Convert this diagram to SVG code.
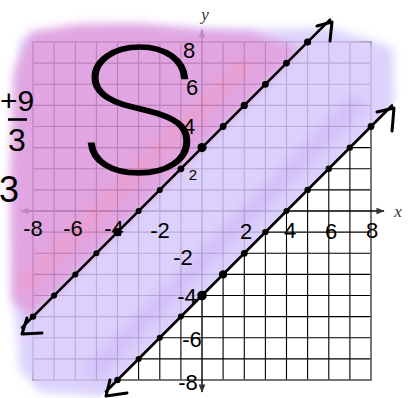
<svg xmlns="http://www.w3.org/2000/svg" width="409" height="398" viewBox="0 0 409 398">
<style>
.g{stroke:#000;stroke-width:1.1;fill:none}
.b{stroke:#555;stroke-width:1.6;fill:none}
.ax{stroke:#000;stroke-width:1.4;fill:none}
.ln{stroke:#000;stroke-width:2.6;fill:none;stroke-linecap:round}
.ar{stroke:#000;stroke-width:3;fill:none;stroke-linecap:round;stroke-linejoin:round}
.d{fill:#000}
.t{font-family:"Liberation Sans",Arial,sans-serif;font-size:22px;fill:#000;text-anchor:middle}
.v{font-family:"Liberation Serif","Times New Roman",serif;font-style:italic;font-size:17px;fill:#333;text-anchor:middle}
</style>
<defs>
<filter id="bl" x="-20%" y="-20%" width="140%" height="140%"><feGaussianBlur stdDeviation="5"/></filter>
<filter id="bl2" x="-20%" y="-20%" width="140%" height="140%"><feGaussianBlur stdDeviation="6"/></filter>
<clipPath id="above2"><polygon points="0,0 409,0 409,88.5 0,497.5"/></clipPath>
<marker id="ah" viewBox="0 0 10 10" refX="9" refY="5" markerWidth="6" markerHeight="6" orient="auto"><path d="M0,1 L10,5 L0,9 z" fill="#333"/></marker>
</defs>
<rect width="409" height="398" fill="#fff"/>
<g id="grid">
<path class="g" d="M54.1,42V380M75.3,42V380M96.4,42V380M117.5,42V380M138.6,42V380M159.8,42V380M180.9,42V380M223.1,42V380M244.3,42V380M265.4,42V380M286.5,42V380M307.6,42V380M328.8,42V380M349.9,42V380"/>
<path class="g" d="M33,63.1H371M33,84.3H371M33,105.4H371M33,126.5H371M33,147.6H371M33,168.8H371M33,189.9H371M33,232.1H371M33,253.3H371M33,274.4H371M33,295.5H371M33,316.6H371M33,337.8H371M33,358.9H371"/>
<rect class="b" x="33" y="42" width="338" height="338"/>
</g>
<g id="axes">
<line class="ax" x1="22" y1="211" x2="384" y2="211" marker-end="url(#ah)"/>
<line class="ax" x1="202" y1="211" x2="21" y2="211" marker-end="url(#ah)"/>
<line class="ax" x1="202" y1="211" x2="202" y2="30" marker-end="url(#ah)"/>
<line class="ax" x1="202" y1="211" x2="202" y2="392" marker-end="url(#ah)"/>
</g>
<g id="shading" opacity="0.85">
<g clip-path="url(#above2)">
<polygon filter="url(#bl)" fill="#d6cafc" points="20,40 120,28 240,30 330,28 370,40 393,48 394,120 360,150 120,398 40,392 20,370 14,300"/>
<line filter="url(#bl2)" x1="360" y1="100" x2="90" y2="375" stroke="#c8acf6" stroke-width="18" opacity="0.7"/>
</g>
<polygon filter="url(#bl)" fill="#dc96dc" points="14,72 30,32 80,24 140,24 200,30 250,32 295,46 298,52 190,160 110,240 30,318 12,300 10,180"/>
<line filter="url(#bl2)" x1="250" y1="60" x2="20" y2="290" stroke="#f088b8" stroke-width="16" opacity="0.5"/>
</g>
<g id="line1">
<line class="ln" x1="22" y1="327.6" x2="330" y2="19.6"/>
<polyline class="ar" points="317,26 332,22 330,41"/>
<polyline class="ar" points="27,318 22,334 42,333"/>
</g>
<g id="line2">
<line class="ln" x1="106" y1="391.5" x2="392" y2="105.5"/>
<polyline class="ar" points="377,112 394,108 392,131"/>
<polyline class="ar" points="110,380 106,396 127,393"/>
</g>
<g id="dots">
<circle class="d" cx="33" cy="316.6" r="3.2"/>
<circle class="d" cx="54.1" cy="295.5" r="3"/>
<circle class="d" cx="75.3" cy="274.4" r="3"/>
<circle class="d" cx="96.4" cy="253.3" r="3"/>
<circle class="d" cx="117.5" cy="232.1" r="4.2"/>
<circle class="d" cx="138.6" cy="211" r="3"/>
<circle class="d" cx="159.8" cy="189.9" r="3"/>
<circle class="d" cx="180.9" cy="168.8" r="3.4"/>
<circle class="d" cx="202" cy="147.6" r="4.6"/>
<circle class="d" cx="223.1" cy="126.5" r="3.4"/>
<circle class="d" cx="244.3" cy="105.4" r="3.6"/>
<circle class="d" cx="265.4" cy="84.3" r="3.4"/>
<circle class="d" cx="286.5" cy="63.1" r="3.4"/>
<circle class="d" cx="307.6" cy="42" r="3.6"/>
<circle class="d" cx="117.5" cy="380" r="3.2"/>
<circle class="d" cx="138.6" cy="358.9" r="3"/>
<circle class="d" cx="159.8" cy="337.8" r="3"/>
<circle class="d" cx="180.9" cy="316.6" r="3"/>
<circle class="d" cx="202" cy="295.5" r="4.8"/>
<circle class="d" cx="223.1" cy="274.4" r="4.2"/>
<circle class="d" cx="244.3" cy="253.3" r="3.4"/>
<circle class="d" cx="265.4" cy="232.1" r="3.2"/>
<circle class="d" cx="286.5" cy="211" r="3"/>
<circle class="d" cx="307.6" cy="189.9" r="3.2"/>
<circle class="d" cx="328.8" cy="168.8" r="3.2"/>
<circle class="d" cx="349.9" cy="147.6" r="3.2"/>
<circle class="d" cx="371" cy="126.5" r="3.4"/>
</g>
<g id="labels">
<text class="v" x="205" y="20">y</text>
<text class="v" x="398" y="217">x</text>
<text class="t" x="189" y="58" font-size="24">8</text>
<text class="t" x="192" y="95">6</text>
<text class="t" x="189" y="134">4</text>
<text class="t" x="193" y="180" style="font-size:15px">2</text>
<text class="t" x="33" y="236">-8</text>
<text class="t" x="73" y="236">-6</text>
<text class="t" x="114" y="236">-4</text>
<text class="t" x="160" y="238">-2</text>
<text class="t" x="246" y="239">2</text>
<text class="t" x="290" y="238">4</text>
<text class="t" x="331" y="239">6</text>
<text class="t" x="372" y="238">8</text>
<text class="t" x="183" y="265">-2</text>
<text class="t" x="187" y="304">-4</text>
<text class="t" x="192" y="347">-6</text>
<text class="t" x="188" y="390">-8</text>
<text class="t" x="17" y="111" style="font-size:30px">+9</text>
<line x1="8" y1="119.5" x2="27" y2="119.5" stroke="#000" stroke-width="2.6"/>
<text class="t" x="17" y="151" style="font-size:32px">3</text>
<text class="t" x="9" y="202" style="font-size:36px">3</text>
</g>
<g id="bigS">
<text x="0" y="173" transform="translate(139,0) scale(1.26,1)" text-anchor="middle" font-family="Inter, Lato, sans-serif" font-weight="100" font-size="174" fill="#000" stroke="#000" stroke-width="1.7">S</text>
</g>
</svg>
